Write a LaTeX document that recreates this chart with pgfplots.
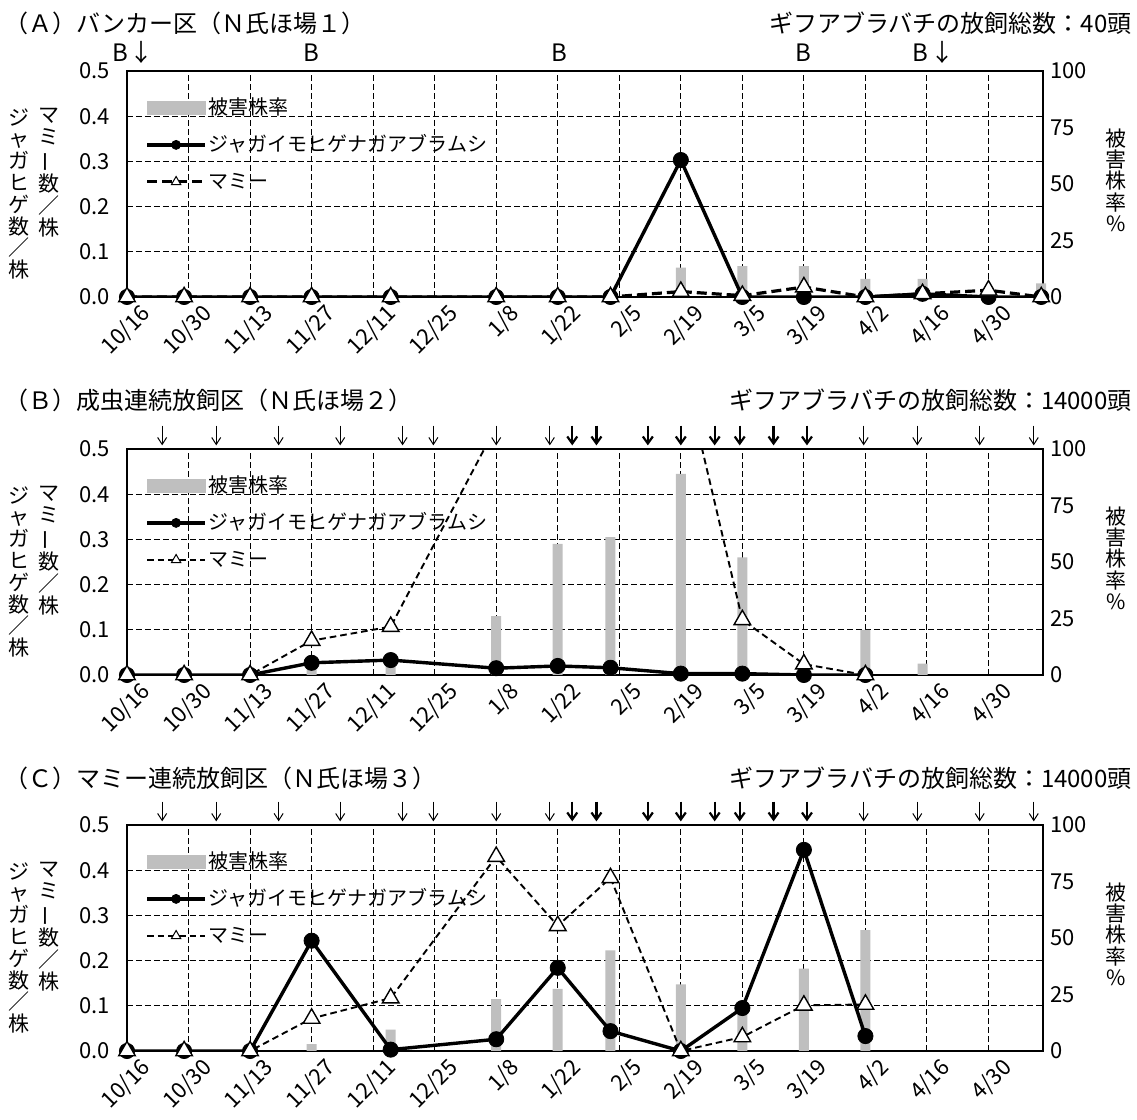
\documentclass[border=0pt]{standalone}
\usepackage{fontspec}
\setmainfont{Noto Sans CJK JP}
\usepackage{graphicx}
\usepackage{pgfplots}
\usepackage{pgfplotstable}
\pgfplotsset{compat=1.18}
\usetikzlibrary{arrows.meta}

\definecolor{bargray}{RGB}{191,191,191}

% day = days after 10/16 (10/16 = 0, 4/30 = 196)
\pgfplotstableread{
day aphid mummy
0   0     0
13  0     0
28  0     0
42  0     0
60  0     0
84  0     0
98  0     0
110 0     0
126 0.303 0.012
140 0     0.003
154 0     0.022
168 0     0
181 0.007 0.007
196 0     0.015
208 0     0
}\lineA
\pgfplotstableread{
day dmg
126 13.0
140 13.7
154 13.7
168 8.0
181 8.0
208 6.0
}\barA

\pgfplotstableread{
day aphid mummy
0   0     0
13  0     0
28  0     0
42  0.027 0.076
60  0.033 0.107
84  0.015 0.55
98  0.020 0.90
110 0.016 1.10
126 0.003 0.70
140 0.003 0.122
154 0     0.024
168 0     0
}\lineB
\pgfplotstableread{
day dmg
42  4
60  4
84  26
98  58
110 61
126 89
140 52
168 20
181 5
}\barB

\pgfplotstableread{
day aphid mummy
0   0     0
13  0     0
28  0     0
42  0.244 0.072
60  0.003 0.117
84  0.026 0.43
98  0.184 0.277
110 0.044 0.383
126 0     0
140 0.095 0.031
154 0.445 0.101
168 0.033 0.103
}\lineC
\pgfplotstableread{
day dmg
42  3
60  9.5
84  23
98  27.5
110 44.5
126 29.5
140 17
154 36.5
168 53.5
}\barC

\pgfplotsset{
  panel/.style={
    scale only axis, width=458pt, height=113pt,
    xmin=0, xmax=208.4,
    major tick length=0pt,
    tick label style={font=\fontsize{11}{12}\selectfont},
    /pgf/number format/assume math mode=true,
  },
  damage axis/.style={panel,
    ymin=0, ymax=100, ytick={0,25,50,75,100},
    yticklabel pos=right,
    xtick={0,14,...,196},
    xticklabels={10/16,10/30,11/13,11/27,12/11,12/25,1/8,1/22,2/5,2/19,3/5,3/19,4/2,4/16,4/30},
    xticklabel style={rotate=45, anchor=east, inner sep=0pt, xshift=2.5pt, yshift=-11.5pt},
    xmajorgrids,
    extra y ticks={20,40,60,80},
    extra y tick labels={},
    extra y tick style={grid=major},
    grid style={black, line width=0.5pt, dash pattern=on 3pt off 1.5pt},
    axis line style={line width=1.2pt},
    clip=false,
  },
  count axis/.style={panel,
    ymin=0, ymax=0.5, ytick={0,0.1,0.2,0.3,0.4,0.5},
    yticklabel style={/pgf/number format/fixed,
      /pgf/number format/fixed zerofill, /pgf/number format/precision=1,
      inner sep=0pt, xshift=-8.5pt},
    xtick=\empty,
    axis line style={draw=none},
    legend cell align=left,
    legend style={draw=none, fill=none, at={(0,1)}, anchor=north west,
      xshift=9pt, yshift=-12.5pt, font=\fontsize{10}{12}\selectfont,
      row sep=7pt, inner sep=0pt,
      nodes={inner sep=1pt, text height=8pt, text depth=1.5pt}},
  },
  dmgbar/.style={ybar, bar width=5pt, fill=bargray, draw=none},
  aphid/.style={black, line width=1.7pt, mark=*, mark size=3.8pt,
    mark options={solid, fill=black, line width=0.4pt}},
  mummyA/.style={black, line width=1.6pt, dash pattern=on 5pt off 2.5pt},
  mummyBC/.style={black, line width=0.95pt, dash pattern=on 3.3pt off 2pt},
  mummymark/.style={only marks, mark=triangle*, mark size=4.8pt,
    mark options={solid, fill=white, draw=black, line width=0.7pt}},
  barlegend/.style={legend image code/.code={
    \fill[bargray] (0pt,-3.25pt) rectangle (29pt,3.25pt);}},
  linelegend/.style={legend image code/.code={
    \draw[##1, mark repeat=2, mark phase=2]
      plot coordinates {(0pt,0pt) (14.5pt,0pt) (29pt,0pt)};}},
}
\tikzset{
  title/.style={font=\fontsize{12}{14}\selectfont, inner sep=0pt},
  vlab/.style={font=\fontsize{10.5}{10.9}\selectfont, align=center, inner sep=0pt, anchor=north},
  rlab/.style={font=\fontsize{10.5}{10.7}\selectfont, align=center, inner sep=0pt, anchor=north},
  blab/.style={font=\fontsize{12}{13}\selectfont, inner sep=0pt},
  thinarrow/.style={-{Straight Barb[length=3.5pt, width=4.5pt]}, line width=0.5pt},
  boldarrow/.style={-{Straight Barb[length=3.5pt, width=5pt]}, line width=1.1pt},
}

% vertical axis titles, #1 = top of the axis box
\newcommand\sidelabels[1]{%
  \node[vlab] at (9.5pt,#1-18.5pt) {ジ\\ャ\\ガ\\ヒ\\ゲ\\数\\／\\株};
  \node[vlab] at (24.5pt,#1-18.5pt) {マ\\ミ\\\rotatebox[origin=c]{90}{ー}\\数\\／\\株};
  \node[rlab] at (558pt,#1-28.5pt) {被\\害\\株\\率\\\%};
}

\newcommand\legendentries[1]{%
  \addlegendimage{barlegend}\addlegendentry{被害株率}
  \addlegendimage{aphid, mark size=2.25pt, linelegend}
  \addlegendentry{ジャガイモヒゲナガアブラムシ}
  \addlegendimage{#1, mark=triangle*, mark size=2.7pt,
    mark options={solid, fill=white, line width=0.5pt}, linelegend}
  \addlegendentry{マミー}
}

\newcommand\releasearrows{%
  \pgfplotsinvokeforeach{8,20.3,34.5,48.5,62.7,69.7,84,96.2,167.6,179.8,194,206.3}{
    \draw[thinarrow] (axis cs:##1,110.3) -- (axis cs:##1,101.6);}
  \pgfplotsinvokeforeach{101.3,106.8,118.5,126,133.7,139.4,147.1,154.7}{
    \draw[boldarrow] (axis cs:##1,110.3) -- (axis cs:##1,101.6);}
}

\begin{document}
\begin{tikzpicture}
\useasboundingbox (0,0) rectangle (568.5pt,560pt);

% ---------------- (A)
\node[title, anchor=west] at (2pt,548.5pt) {（Ａ）バンカー区（Ｎ氏ほ場１）};
\node[title, anchor=east] at (566pt,548.5pt) {ギフアブラバチの放飼総数：40頭};
\sidelabels{524.5pt}
\begin{axis}[damage axis, at={(63.5pt,411.5pt)}, anchor=south west]
  \addplot[dmgbar] table[x=day, y=dmg] {\barA};
  \node[blab] at (axis cs:-1.6,108) {B};
  \node[blab] at (axis cs:3.4,108) {↓};
  \node[blab] at (axis cs:42,108) {B};
  \node[blab] at (axis cs:98.4,108) {B};
  \node[blab] at (axis cs:153.8,108) {B};
  \node[blab] at (axis cs:180.6,108) {B};
  \node[blab] at (axis cs:185.6,108) {↓};
\end{axis}
\begin{axis}[count axis, at={(63.5pt,411.5pt)}, anchor=south west]
  \legendentries{mummyA}
  \addplot[aphid, forget plot] table[x=day, y=aphid] {\lineA};
  \addplot[mummyA, forget plot] table[x=day, y=mummy] {\lineA};
  \addplot[mummymark, forget plot, restrict y to domain=-1:0.5] table[x=day, y=mummy] {\lineA};
\end{axis}

% ---------------- (B)
\node[title, anchor=west] at (2pt,360pt) {（Ｂ）成虫連続放飼区（Ｎ氏ほ場２）};
\node[title, anchor=east] at (566pt,360pt) {ギフアブラバチの放飼総数：14000頭};
\sidelabels{335.5pt}
\begin{axis}[damage axis, at={(63.5pt,222.5pt)}, anchor=south west]
  \addplot[dmgbar] table[x=day, y=dmg] {\barB};
  \releasearrows
\end{axis}
\begin{axis}[count axis, at={(63.5pt,222.5pt)}, anchor=south west]
  \legendentries{mummyBC}
  \addplot[aphid, forget plot] table[x=day, y=aphid] {\lineB};
  \addplot[mummyBC, forget plot] table[x=day, y=mummy] {\lineB};
  \addplot[mummymark, forget plot, restrict y to domain=-1:0.5] table[x=day, y=mummy] {\lineB};
\end{axis}

% ---------------- (C)
\node[title, anchor=west] at (2pt,171pt) {（Ｃ）マミー連続放飼区（Ｎ氏ほ場３）};
\node[title, anchor=east] at (566pt,171pt) {ギフアブラバチの放飼総数：14000頭};
\sidelabels{147.5pt}
\begin{axis}[damage axis, at={(63.5pt,34.5pt)}, anchor=south west]
  \addplot[dmgbar] table[x=day, y=dmg] {\barC};
  \releasearrows
\end{axis}
\begin{axis}[count axis, at={(63.5pt,34.5pt)}, anchor=south west]
  \legendentries{mummyBC}
  \addplot[aphid, forget plot] table[x=day, y=aphid] {\lineC};
  \addplot[mummyBC, forget plot] table[x=day, y=mummy] {\lineC};
  \addplot[mummymark, forget plot, restrict y to domain=-1:0.5] table[x=day, y=mummy] {\lineC};
\end{axis}
\end{tikzpicture}
\end{document}
